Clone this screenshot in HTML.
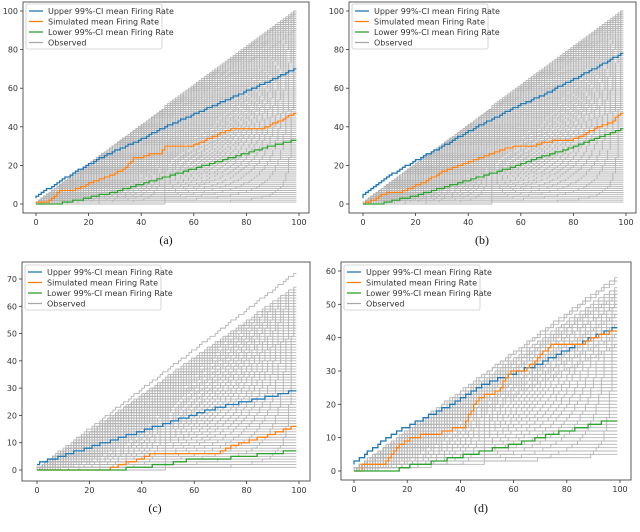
<!DOCTYPE html>
<html><head><meta charset="utf-8"><style>
html,body{margin:0;padding:0;background:#fff;width:640px;height:532px;overflow:hidden}
svg{display:block}
.tk{font-family:"DejaVu Sans","Liberation Sans",sans-serif;font-size:8px;fill:#333}
.lg{font-family:"DejaVu Sans","Liberation Sans",sans-serif;font-size:8px;fill:#333}
.cap{font-family:"Liberation Serif",serif;font-size:12px;fill:#111}
</style></head><body>
<svg id="fig" width="640" height="532" viewBox="0 0 640 532"></svg>
<script>
// ---- data ----
const aUpperX=[0,10,20,30,40,50,60,70,80,90,99];
const aUpperY=[3,12,20,27,33,40,46,52,58,64,70];
const aSimX=[0,5,8,10,15,20,30,35,38,40,45,48,50,60,65,70,75,87,90,95,99];
const aSimY=[1,1,4,7,7,10,15,19,24,24,26,26,30,30,33,36,39,39,41,44,47];
const aLowerX=[0,9,20,30,40,50,60,70,80,90,99];
const aLowerY=[0,0,3,6,10,14,18,22,26,30,33];
const aObs=[100,99.5,99,98.5,98,97.5,97,96,95.5,95,94,93.5,93,92,91,90,89.5,89,88,87,86,85,84,83,82,81,80,79,78,77,76,75,74,73,72,71,70,69,68,67,66,65,64,63,62,61,60,59,58,57,56,55,54,53,52,51,50,49,48,47,46,45,44,43,42,41,40,39,38,37,36,35,34,33,32,31,30,29,28,27,26,25,24,23,22,21,20,19,18,17,16,15,14,13,12,11,10,9,8,7,6,5,4,3,2,1];

const bUpperX=[0,2,10,20,30,40,50,60,70,80,90,99];
const bUpperY=[3,6,14,22,29,37,44,51,57,64,71,78];
const bSimX=[0,3,10,15,20,25,30,35,40,45,50,55,60,65,70,75,80,85,90,95,99];
const bSimY=[0,1,6,6,9,12,16,19,21,24,26,29,30,30,32,33,33,36,40,42,47];
const bLowerX=[0,8,10,20,30,40,50,60,70,80,90,99];
const bLowerY=[0,0,1,4,8,12,16,20,25,29,34,39];
const bObs=[100,99.5,99,98.5,98,97.5,97,96.5,96,95,94.5,94,93,92.5,92,91,90,89,88,87,86,85,84,83,82,81,80,79,78,77,76,75,74,73,72,71,70,69,68,67,66,65,64,63,62,61,60,59,58,57,56,55,54,53,52,51,50,49,48,47,46,45,44,43,42,41,40,39,38,37,36,35,34,33,32,31,30,29,28,27,26,25,24,23,22,21,20,19,18,17,16,15,14,13,12,11,10,9,8,7,6,5,4,3,2,1];

const cUpperX=[0,10,20,30,40,50,60,70,80,90,99];
const cUpperY=[2,5,8,11,14,17,20,23,25,27,29];
const cSimX=[0,28,30,40,45,50,60,70,75,80,90,99];
const cSimY=[0,0,1,4,6,6,6,6,9,10,13,16];
const cLowerX=[0,30,40,50,60,70,80,90,99];
const cLowerY=[0,0,1,2,4,4,5,6,7];
const cObs=[72,67,66,65,64,63,62,61,60,59,58,57,56,55,54,53,52,51,50,49,48,47,46,45,44,43,42,41,40,39,38,37,36,35,34,33,32,31,30,29,28,27,26,25,24,23,22,21,20,19,18,17,16,15,14,13,12,11,10,9,8,7,6,5,4,3,2,1];

const dUpperX=[0,10,20,30,40,50,60,70,80,90,99];
const dUpperY=[2,8,13,17,21,26,29,32,36,40,43];
const dSimX=[0,3,4,12,17,20,27,33,35,40,42,44,48,55,58,60,65,75,87,90,99];
const dSimY=[0,0,2,2,7,9,11,11,12,13,13,17,22,24,28,30,30,38,38,40,42];
const dLowerX=[0,17,18,26,33,39,50,56,66,75,81,86,91,96,99];
const dLowerY=[0,0,1,2,3,4,6,7,9,11,12,13,14,15,15];
const dObs=[58,57,55,54,53,52.5,52,51,50,49.5,49,48,47,46.5,46,45,44,43.5,43,42,41,40.5,40,39,38,37.5,37,36,35,34,33,32,31,30,29,28,27,26,25,24,23,22,21,20,19,18,17,16,15,14,13,12,11,10,9,8,7,6,5];

const yTicksA=[0,20,40,60,80,100];
const yTicksC=[0,10,20,30,40,50,60,70];
const yTicksD=[0,10,20,30,40,50,60];
const xTicks=[0,20,40,60,80,100];
const legendLabels=["Upper 99%-CI mean Firing Rate","Simulated mean Firing Rate","Lower 99%-CI mean Firing Rate","Observed"];

const NS="http://www.w3.org/2000/svg";
const fig=document.getElementById('fig');
function mk(tag,attrs,parent){const e=document.createElementNS(NS,tag);for(const k in attrs)e.setAttribute(k,attrs[k]);(parent||fig).appendChild(e);return e;}

const panels=[
 {id:'a',box:[23,2,309,213],x0:36,x100:299,y0:204,yT:11,yMax:100,yt:yTicksA,up:[aUpperX,aUpperY],sim:[aSimX,aSimY],lo:[aLowerX,aLowerY],obs:aObs,cap:[166,244],leg:[26,4]},
 {id:'b',box:[349,2,636,213],x0:363,x100:626,y0:204,yT:11,yMax:100,yt:yTicksA,up:[bUpperX,bUpperY],sim:[bSimX,bSimY],lo:[bLowerX,bLowerY],obs:bObs,cap:[482,244],leg:[352,4]},
 {id:'c',box:[22,262,310,481],x0:37,x100:299,y0:470,yT:279,yMax:70,yt:yTicksC,up:[cUpperX,cUpperY],sim:[cSimX,cSimY],lo:[cLowerX,cLowerY],obs:cObs,cap:[155,512],leg:[25,265]},
 {id:'d',box:[341,262,631,480],x0:354,x100:620,y0:471,yT:271,yMax:60,yt:yTicksD,up:[dUpperX,dUpperY],sim:[dSimX,dSimY],lo:[dLowerX,dLowerY],obs:dObs,cap:[481,512],leg:[344,265]}
];

panels.forEach(p=>{
 const g=mk('g',{});
 
 
 const xs=v=>p.x0+(p.x100-p.x0)*v/100;
 const ys=v=>p.y0+(p.yT-p.y0)*v/p.yMax;
 const og=mk('g',{fill:'none',stroke:'#b4b4b4','stroke-width':0.9},g);
 
 
 p.obs.forEach((f,i)=>{
  let d='',prev=null;
  for(let t=0;t<=99;t++){
   const v=Math.round(f*t/99);
   if(prev===null)d+='M'+xs(t)+','+ys(v);
   else{ if(v!==prev)d+='V'+ys(v); d+='H'+xs(t);}
   prev=v;
  }
  const pe=mk('path',{d:d},og);
  
  
 });
 function series(arr,color,name){
  const X=arr[0],Y=arr[1];let d='M'+xs(X[0])+','+ys(Y[0]);
  for(let i=1;i<X.length;i++){
   const n=X[i]-X[i-1];
   for(let k=1;k<=n;k++){
     const v=Math.round(Y[i-1]+(Y[i]-Y[i-1])*k/n);
     d+='V'+ys(v)+'H'+xs(X[i-1]+k);
   }
  }
  const e=mk('path',{d:d,fill:'none',stroke:color,'stroke-width':1.3},g);
  
  
 }
 series(p.up,'#1f77b4','upper-ci-line');
 series(p.sim,'#ff7f0e','simulated-line');
 series(p.lo,'#2ca02c','lower-ci-line');
 const b=p.box;
 const fr=mk('rect',{x:b[0],y:b[1],width:b[2]-b[0],height:b[3]-b[1],fill:'none',stroke:'#333','stroke-width':0.8},g);
 
 
 xTicks.forEach(v=>{
  const tl=mk('line',{x1:xs(v),x2:xs(v),y1:b[3],y2:b[3]+3,stroke:'#333','stroke-width':0.8},g);
  
  
  const tt=mk('text',{x:xs(v),y:b[3]+12,'text-anchor':'middle',class:'tk'},g);tt.textContent=v;
  
  
 });
 p.yt.forEach(v=>{
  const tl=mk('line',{x1:b[0]-3,x2:b[0],y1:ys(v),y2:ys(v),stroke:'#333','stroke-width':0.8},g);
  
  
  const tt=mk('text',{x:b[0]-5,y:ys(v)+3,'text-anchor':'end',class:'tk'},g);tt.textContent=v;
  
  
 });
 const lx=p.leg[0],ly=p.leg[1];
 const lg=mk('g',{},g);
 
 
 mk('rect',{x:lx,y:ly,width:136,height:45,rx:2,fill:'#fff','fill-opacity':0.85,stroke:'#ccc','stroke-width':0.8},lg);
 const cols=['#1f77b4','#ff7f0e','#2ca02c','#a8a8a8'];
 legendLabels.forEach((lab,i)=>{
  const yy=ly+7+i*10.5;
  const ll=mk('line',{x1:lx+3,x2:lx+17,y1:yy,y2:yy,stroke:cols[i],'stroke-width':1.3},lg);
  
  
  const t=mk('text',{x:lx+22,y:yy+3,class:'lg'},lg);t.textContent=lab;
  
  
 });
 const cp=mk('text',{x:p.cap[0],y:p.cap[1],'text-anchor':'middle',class:'cap'},g);cp.textContent='('+p.id+')';
 
 
});
</script>
</body></html>
